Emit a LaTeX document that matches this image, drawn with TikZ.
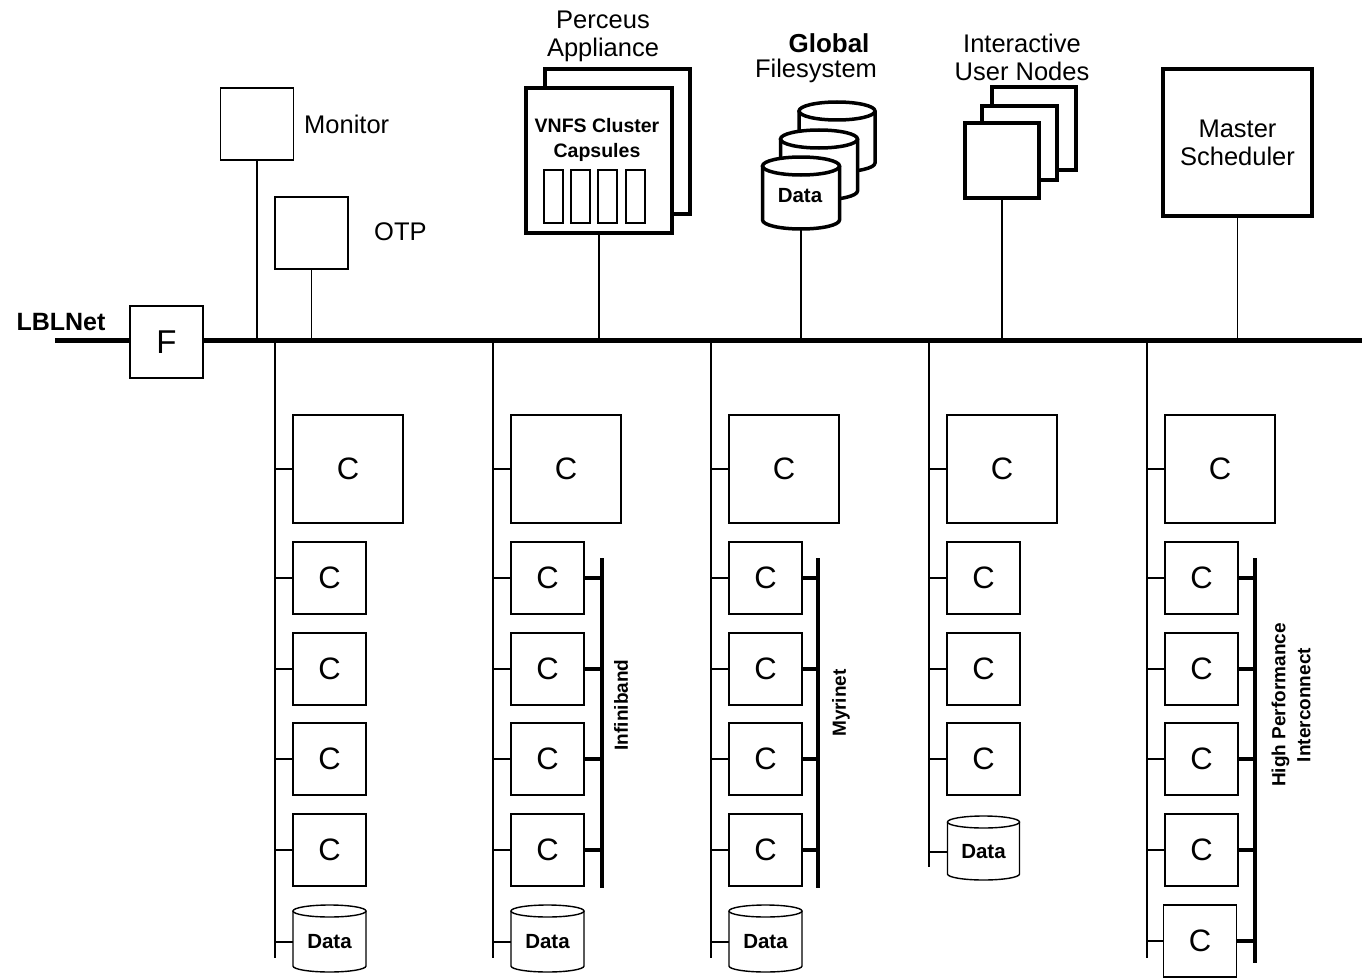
\documentclass[tikz,border=0pt]{standalone}
\usepackage{fontspec}
\setmainfont{Liberation Sans}
\newcommand\drawcyl[6][]{%
  \fill[white] (#2-#5,#3) -- (#2-#5,#4) arc[start angle=180,end angle=0,x radius=#5,y radius=#6] -- (#2+#5,#3) arc[start angle=0,end angle=-180,x radius=#5,y radius=#6] -- cycle;
  \draw[#1] (#2-#5,#3) -- (#2-#5,#4) arc[start angle=180,end angle=0,x radius=#5,y radius=#6] -- (#2+#5,#3);
  \draw[#1] (#2,#3) ellipse[x radius=#5,y radius=#6];
}
\begin{document}
\begin{tikzpicture}[x=1pt,y=-1pt,
  wire/.style={line width=1.4pt},
  bus/.style={line width=5pt},
  ibus/.style={line width=4.5pt},
  box/.style={draw, line width=1.4pt, fill=white, inner sep=0pt, minimum width=73pt, minimum height=72pt, font=\fontsize{31}{31}\selectfont},
  bigbox/.style={box, minimum width=110pt, minimum height=108pt},
  heavybox/.style={draw, line width=3.5pt, fill=white, inner sep=0pt},
  lab/.style={font=\fontsize{25.5}{28}\selectfont, align=center, inner sep=0pt},
  blab/.style={font=\bfseries\fontsize{26}{28}\selectfont, align=center, inner sep=0pt},
  rlab/.style={font=\bfseries\fontsize{19}{25}\selectfont, align=center, rotate=90, inner sep=0pt},
  datalab/.style={font=\bfseries\fontsize{20.5}{20.5}\selectfont, inner sep=0pt, minimum width=73pt},
  capsule/.style={draw, line width=1.3pt, inner sep=0pt, minimum width=19pt, minimum height=53pt}
]
\useasboundingbox (0,0) rectangle (1362,979);

% main bus
\coordinate (busL) at (55,340.5);
\coordinate (busR) at (1362,340.5);
\draw[bus] (busL) -- (busR);
\node[blab, font=\bfseries\fontsize{25}{25}\selectfont] (lbl) at (61,322) {LBLNet};
\node[box, font=\fontsize{33}{33}\selectfont] (F) at (166.5,342) {F};

% Monitor and OTP
\node[box] (mon) at (257,124) {};
\draw[wire] (mon.south) -- (mon.south |- busL);
\node[lab, anchor=west] (monl) at (304,124) {Monitor};
\node[box] (otp) at (311.5,233) {};
\draw[wire] (otp.south) -- (otp.south |- busL);
\node[lab, anchor=west] (otpl) at (374,232) {OTP};

% Perceus appliance
\node[lab] (pal) at (603,36) {Perceus\\Appliance};
\node[heavybox, minimum width=145pt, minimum height=145pt] (pa2) at (617.5,141.5) {};
\node[heavybox, minimum width=146pt, minimum height=145pt] (pa1) at (599,160.5) {};
\node[font=\bfseries\fontsize{19.5}{25}\selectfont, align=center, inner sep=0pt] (vnfs) at (597,140) {VNFS Cluster\\Capsules};
\node[capsule] (cap1) at (553.5,196.5) {};
\node[capsule] (cap2) at (580.5,196.5) {};
\node[capsule] (cap3) at (607.5,196.5) {};
\node[capsule] (cap4) at (635.5,196.5) {};
\draw[wire] (pa1.south) -- (pa1.south |- busL);

% Global filesystem
\node[blab] (gl1) at (829,43) {Global};
\node[lab] (gl2) at (816,71) {Filesystem};
\drawcyl[line width=3.5pt]{837}{111}{163}{38}{9}
\drawcyl[line width=3.5pt]{819}{139}{191}{38.5}{9}
\drawcyl[line width=3.5pt]{801}{166}{220}{38.5}{9}
\node[datalab] (gfs) at (800,196) {Data};
\coordinate (gfsb) at (801,229);
\draw[wire] (gfsb) -- (gfsb |- busL);

% Interactive user nodes
\node[lab] (iul) at (1022,57) {Interactive\\User Nodes};
\node[heavybox, minimum width=84pt, minimum height=83pt] (iu3) at (1034,128.5) {};
\node[heavybox, minimum width=75pt, minimum height=74pt] (iu2) at (1019.5,143) {};
\node[heavybox, minimum width=74pt, minimum height=75pt] (iu1) at (1002,160.5) {};
\draw[wire] (iu1.south) -- (iu1.south |- busL);

% Master scheduler
\node[heavybox, minimum width=149pt, minimum height=147pt, font=\fontsize{25.5}{28}\selectfont, align=center] (ms) at (1237.5,142.5) {Master\\Scheduler};
\draw[wire] (ms.south) -- (ms.south |- busL);

% Compute columns
\foreach \c/\x/\yb in {1/275/958,2/493/958,3/711/958,4/929/867,5/1147/958}{
  \coordinate (col\c) at (\x,340.5);
  \coordinate (colb\c) at (\x,\yb);
  \draw[wire] (col\c) -- (colb\c);
  \node[bigbox] (big\c) at (\x+73,469) {C};
  \draw[wire] (big\c.west) -- (big\c.west -| col\c);
}
% small compute nodes
\foreach \c/\x in {1/275,2/493,3/711,5/1147}{
  \foreach \r/\y in {1/578,2/669,3/759,4/850}{
    \node[box] (c\c\r) at (\x+54.5,\y) {C};
    \draw[wire] (c\c\r.west) -- (c\c\r.west -| col\c);
  }
}
\foreach \r/\y in {1/578,2/669,3/759}{
  \node[box] (c4\r) at (929+54.5,\y) {C};
  \draw[wire] (c4\r.west) -- (c4\r.west -| col4);
}
\node[box] (c55) at (1147+53,941) {C};
\draw[wire] (c55.west) -- (c55.west -| col5);

% local data cylinders
\foreach \c/\x in {1/275,2/493,3/711}{
  \drawcyl[line width=1.4pt]{\x+54.5}{911}{966}{36.5}{6}
  \node[datalab] (dat\c) at (\x+54.5,942) {Data};
  \draw[wire] (dat\c.west) -- (dat\c.west -| col\c);
}
\drawcyl[line width=1.4pt]{929+54.5}{822}{874}{36}{6}
\node[datalab] (dat4) at (929+54.5,852) {Data};
\draw[wire] (dat4.west) -- (dat4.west -| col4);

% interconnects
\coordinate (ibt) at (602,558);
\coordinate (ibb) at (602,888);
\draw[ibus] (ibt) -- (ibb);
\foreach \r in {1,2,3,4}{\draw[ibus] (c2\r.east) -- (c2\r.east -| ibt);}
\node[rlab] (ibl) at (621,705) {Infiniband};

\coordinate (myt) at (818,558);
\coordinate (myb) at (818,888);
\draw[ibus] (myt) -- (myb);
\foreach \r in {1,2,3,4}{\draw[ibus] (c3\r.east) -- (c3\r.east -| myt);}
\node[rlab] (myl) at (841,703) {Myrinet};

\coordinate (hpt) at (1255,558);
\coordinate (hpb) at (1255,963);
\draw[ibus] (hpt) -- (hpb);
\foreach \r in {1,2,3,4,5}{\draw[ibus] (c5\r.east) -- (c5\r.east -| hpt);}
\node[rlab] (hpl) at (1291,705) {High Performance\\Interconnect};
\end{tikzpicture}
\end{document}
